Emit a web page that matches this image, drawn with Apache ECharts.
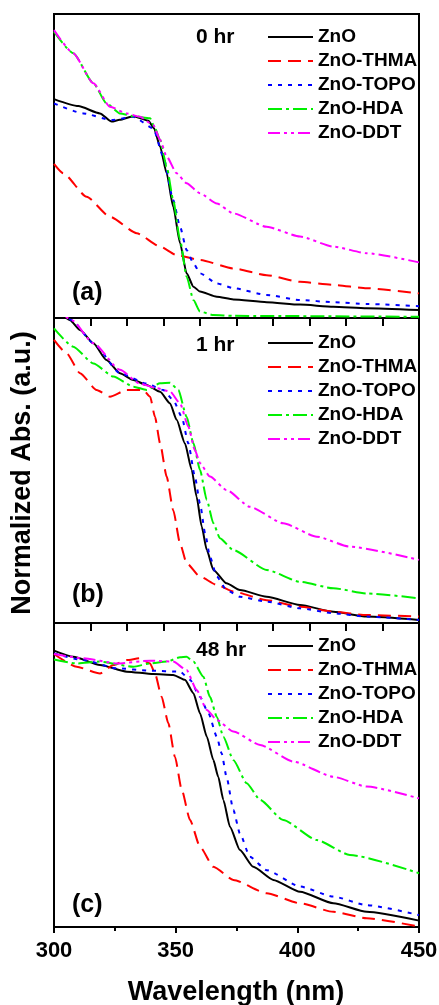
<!DOCTYPE html>
<html>
<head>
<meta charset="utf-8">
<script src="https://cdn.jsdelivr.net/npm/echarts@6/dist/echarts.min.js"></script>
<style>
html,body{margin:0;padding:0;background:#fff;}
#chart{width:439px;height:1005px;}
</style>
</head>
<body>
<div id="chart"></div>
<script>
// ---- data ----
const seriesNames = ['ZnO', 'ZnO-THMA', 'ZnO-TOPO', 'ZnO-HDA', 'ZnO-DDT'];
const panelTimes = ['0 hr', '1 hr', '48 hr'];
const panelLetters = ['(a)', '(b)', '(c)'];
const xRange = [300, 450];
const xTickLabels = [300, 350, 400, 450];
const xTitle = 'Wavelength (nm)';
const yTitle = 'Normalized Abs. (a.u.)';

// panel (a) 0 hr : [wavelength, normalized abs]
const a_ZnO = [[300,.720],[310,.697],[318.9,.673],[323.7,.646],[327,.652],[332.6,.664],[338.8,.649],[341.1,.624],[343.6,.564],[346.3,.476],[349,.366],[351.8,.246],[354.5,.147],[357.3,.103],[360,.087],[366.9,.070],[373.7,.061],[387.4,.052],[401.1,.044],[414.8,.037],[428.5,.032],[450,.026]];
const a_THMA = [[300,.507],[303.8,.476],[313.4,.399],[323,.333],[334,.279],[343.6,.235],[350.4,.207],[360,.191],[373.7,.163],[387.4,.141],[401.1,.119],[414.8,.109],[428.5,.098],[450,.081]];
const a_TOPO = [[300,.706],[312.1,.673],[323.7,.651],[332.6,.662],[340.8,.624],[344.9,.531],[349,.388],[351.8,.300],[354.5,.224],[357.3,.180],[360,.147],[366.9,.114],[373.7,.098],[387.4,.076],[401.1,.059],[414.8,.052],[428.5,.046],[450,.039]];
const a_HDA = [[300,.942],[307.9,.871],[316.2,.772],[321.6,.706],[327.1,.673],[332.6,.664],[339.5,.657],[341.5,.624],[343.6,.586],[346.3,.498],[349,.388],[351.8,.257],[354.5,.136],[357.3,.059],[360,.021],[365.5,.010],[373.7,.007],[450,.004]];
const a_DDT = [[300,.947],[307.9,.871],[316.2,.772],[323,.695],[329.9,.673],[335.3,.662],[340.8,.635],[343.6,.586],[346.3,.531],[350.4,.476],[354.5,.443],[360,.410],[366.9,.377],[373.7,.344],[387.4,.300],[401.1,.268],[414.8,.235],[428.5,.213],[450,.183]];

// panel (b) 1 hr
const b_ZnO = [[300,1.04],[306.6,.993],[310.7,.961],[316.2,.917],[321.6,.862],[327.1,.819],[332.6,.797],[338.1,.780],[343.6,.758],[347.7,.720],[350.4,.666],[353.8,.589],[356.6,.502],[358.6,.414],[360.7,.316],[362.8,.239],[365.5,.174],[370.9,.130],[376.4,.108],[387.4,.086],[401.1,.059],[414.8,.037],[428.5,.021],[450,.010]];
const b_THMA = [[300,.928],[305.2,.884],[310.7,.819],[317.5,.764],[323,.742],[329.9,.764],[336.7,.764],[339.5,.742],[341.5,.676],[343.6,.589],[346.3,.480],[349,.370],[351.8,.261],[354.5,.196],[360,.152],[366.9,.125],[373.7,.103],[387.4,.075],[401.1,.053],[414.8,.037],[428.5,.026],[450,.021]];
const b_TOPO = [[300,1.04],[307.3,.993],[316.2,.917],[327.1,.819],[338.1,.785],[344.9,.764],[349,.731],[352.5,.676],[355.2,.589],[357.9,.480],[360,.392],[362.1,.294],[364.1,.217],[366.9,.152],[370.9,.108],[376.4,.086],[387.4,.070],[401.1,.048],[414.8,.032],[428.5,.021],[450,.010]];
const b_HDA = [[300,.966],[307.9,.906],[316.2,.851],[324.4,.808],[332.6,.775],[338.1,.764],[343.6,.786],[347.7,.788],[351.1,.764],[354.5,.676],[357.3,.589],[360,.502],[362.8,.403],[365.5,.327],[368.2,.278],[373.7,.239],[387.4,.174],[401.1,.135],[414.8,.114],[428.5,.097],[450,.081]];
const b_DDT = [[300,1.04],[307.3,.993],[316.2,.917],[327.1,.830],[335.3,.785],[342.2,.770],[347.7,.759],[351.8,.720],[355.2,.644],[357.9,.567],[360,.524],[364.1,.480],[370.9,.436],[380.5,.381],[394.2,.327],[408,.283],[421.6,.250],[450,.207]];

// panel (c) 48 hr
const c_ZnO = [[300,.909],[307.9,.889],[318.9,.862],[329.9,.840],[340.8,.832],[349,.829],[353.8,.813],[357.3,.769],[360,.703],[362.8,.626],[365.5,.549],[367.5,.494],[369.6,.418],[372.3,.330],[376.4,.253],[381.9,.198],[390.1,.155],[401.1,.116],[414.8,.078],[428.5,.050],[450,.021]];
const c_THMA = [[300,.898],[309.3,.856],[318.9,.834],[324.4,.862],[329.9,.878],[335.3,.884],[339.5,.867],[341.5,.834],[344.2,.758],[347,.670],[349.7,.560],[352.5,.451],[355.9,.352],[360,.264],[365.5,.198],[373.7,.155],[387.4,.111],[401.1,.078],[414.8,.050],[428.5,.029],[450,.001]];
const c_TOPO = [[300,.900],[312.1,.878],[325.8,.851],[339.5,.843],[351.8,.840],[355.9,.813],[360,.757],[363.5,.703],[366.9,.626],[368.9,.571],[370.9,.494],[373.7,.385],[376.4,.308],[380.5,.231],[387.4,.187],[401.1,.133],[414.8,.100],[428.5,.072],[450,.039]];
const c_HDA = [[300,.880],[309.3,.867],[318.9,.873],[332.6,.856],[339.5,.867],[346.3,.873],[351.8,.887],[354.5,.889],[357.3,.873],[361.4,.823],[364.1,.757],[366.9,.692],[369.6,.626],[373.7,.549],[379.2,.473],[384.7,.418],[394.2,.352],[408,.286],[421.6,.237],[450,.177]];
const c_DDT = [[300,.898],[312.1,.884],[325.8,.867],[339.5,.876],[349,.873],[354.5,.845],[358.6,.780],[362.8,.714],[366.9,.681],[373.7,.643],[384.7,.599],[398.4,.544],[414.8,.494],[428.5,.462],[450,.423]];

const panelData = [
  [a_ZnO, a_THMA, a_TOPO, a_HDA, a_DDT],
  [b_ZnO, b_THMA, b_TOPO, b_HDA, b_DDT],
  [c_ZnO, c_THMA, c_TOPO, c_HDA, c_DDT]
];

// ---- styles ----
const FONT = '"Liberation Sans", Arial, sans-serif';
const lineStyles = [
  {color: '#000000', type: 'solid'},
  {color: '#ff0000', type: [13, 7]},
  {color: '#0000ff', type: [4, 6]},
  {color: '#00f000', type: [14, 4, 3, 4]},
  {color: '#ff00ff', type: [12, 4, 3, 4, 3, 4]}
];
const grids = [
  {left: 54, width: 365, top: 14, height: 304},
  {left: 54, width: 365, top: 318, height: 305},
  {left: 54, width: 365, top: 623, height: 304}
];
const legendTops = [22, 328, 631];
const titleY = [37, 345, 650];
const letterY = [293, 595, 905];

const chart = echarts.init(document.getElementById('chart'), null, {renderer: 'canvas'});

const xAxes = grids.map((g, i) => {
  const last = i === 2;
  return {
    type: 'value', gridIndex: i, min: xRange[0], max: xRange[1],
    interval: last ? (xTickLabels[1] - xTickLabels[0]) : 15,
    axisLine: {show: true, lineStyle: {color: '#000', width: 2}},
    axisTick: {show: true, inside: false, length: last ? 6 : 8, lineStyle: {color: '#000', width: 2}},
    minorTick: {show: last, splitNumber: 2, length: 4, lineStyle: {color: '#000', width: 2}},
    axisLabel: {show: last, margin: 13, color: '#000', fontSize: 22, fontWeight: 'bold', fontFamily: FONT},
    splitLine: {show: false}
  };
});
const yAxes = grids.map((g, i) => ({
  type: 'value', gridIndex: i, min: 0, max: 1,
  axisLine: {show: false}, axisTick: {show: false}, axisLabel: {show: false}, splitLine: {show: false}
}));

const series = [];
panelData.forEach((pd, p) => {
  pd.forEach((d, s) => {
    series.push({
      type: 'line', name: seriesNames[s], xAxisIndex: p, yAxisIndex: p,
      data: d, showSymbol: false, symbol: 'none', smooth: 0.2, smoothMonotone: 'x',
      clip: true, animation: false,
      lineStyle: {color: lineStyles[s].color, type: lineStyles[s].type, width: 2},
      itemStyle: {color: lineStyles[s].color}
    });
  });
});

const legends = legendTops.map(t => ({
  left: 262, top: t, orient: 'vertical', itemWidth: 45, itemHeight: 14, itemGap: 4,
  selectedMode: false, data: seriesNames,
  itemStyle: {opacity: 0},
  textStyle: {color: '#000', fontSize: 19, fontWeight: 'bold', fontFamily: FONT, lineHeight: 20}
}));

const graphics = [];
panelTimes.forEach((t, i) => {
  graphics.push({type: 'text', x: 196, y: titleY[i], style: {text: t, fill: '#000', font: 'bold 21px ' + FONT, textAlign: 'left', textVerticalAlign: 'middle'}});
  graphics.push({type: 'text', x: 72, y: letterY[i], style: {text: panelLetters[i], fill: '#000', font: 'bold 25px ' + FONT, textAlign: 'left', textVerticalAlign: 'middle'}});
});
graphics.push({type: 'text', x: 236, y: 993, style: {text: xTitle, fill: '#000', font: 'bold 27px ' + FONT, textAlign: 'center', textVerticalAlign: 'middle'}});
graphics.push({type: 'text', x: 23, y: 473, rotation: Math.PI / 2, style: {text: yTitle, fill: '#000', font: 'bold 27px ' + FONT, textAlign: 'center', textVerticalAlign: 'middle'}});

chart.setOption({
  backgroundColor: '#ffffff',
  animation: false,
  grid: grids.map(g => Object.assign({show: true, borderColor: '#000', borderWidth: 2, backgroundColor: 'transparent', containLabel: false, outerBoundsMode: 'none'}, g)),
  xAxis: xAxes,
  yAxis: yAxes,
  legend: legends,
  series: series,
  graphic: graphics
});
</script>
</body>
</html>
